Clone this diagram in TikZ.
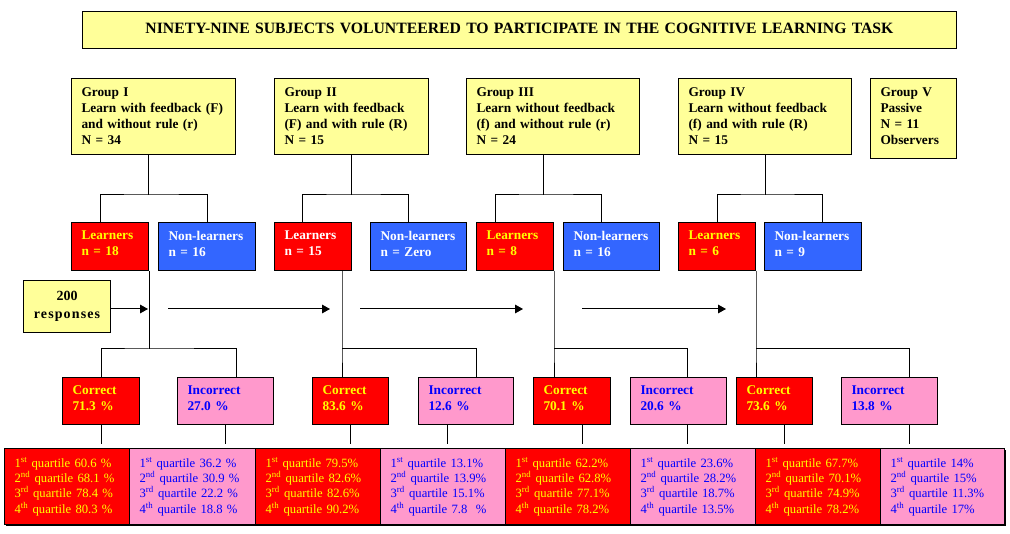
\documentclass[tikz,border=0pt]{standalone}
\usepackage{fontspec}
\setmainfont{Liberation Serif}
\usetikzlibrary{arrows.meta}
\definecolor{lyel}{HTML}{FFFF99}
\definecolor{bred}{HTML}{FF0000}
\definecolor{bblue}{HTML}{3366FF}
\definecolor{bpink}{HTML}{FF99CC}
\definecolor{tyel}{HTML}{FFFF00}
\definecolor{tblue}{HTML}{0000FF}
\newdimen\px \px=0.75pt
\newcommand\mybox[7]{%
  \pgfmathsetmacro\bw{(#4-#2)*0.75}%
  \pgfmathsetmacro\bh{(#5-#3)*0.75}%
  \pgfmathsetmacro\tw{\bw-15}%
  \node[#6, anchor=north west, minimum width=\bw pt, minimum height=\bh pt, text width=\tw pt] (#1) at (#2,#3) {#7};}
\newcommand\sth[1]{\textsuperscript{#1}}
\tikzset{
  base/.style={draw, line width=0.75pt, inner xsep=7.5pt, inner ysep=0pt, align=left},
  up/.style={execute at end node={\par\vspace{4.5pt}}},
  grp/.style={base, fill=lyel, font=\bfseries\fontsize{10}{12}\selectfont},
  lrn/.style={base, up, fill=bred, font=\bfseries\fontsize{10}{12}\selectfont},
  nonl/.style={base, up, fill=bblue, text=white, font=\bfseries\fontsize{10}{12}\selectfont},
  corr/.style={base, up, fill=bred, text=tyel, font=\bfseries\fontsize{10}{12}\selectfont},
  inc/.style={base, up, fill=bpink, text=tblue, font=\bfseries\fontsize{10}{12}\selectfont},
  qred/.style={base, fill=bred, text=tyel, font=\fontsize{9.5}{11.5}\selectfont},
  qpink/.style={base, fill=bpink, text=tblue, font=\fontsize{9.5}{11.5}\selectfont},
  ln/.style={line width=0.75pt},
  arr/.style={line width=0.75pt, -{Triangle[length=6pt,width=6.5pt]}}
}
\begin{document}
\begin{tikzpicture}[x=0.75pt,y=-0.75pt]
\useasboundingbox (0,0) rectangle (1010,534);
% title
\mybox{title}{82}{11}{956}{48}{grp, align=center, font=\bfseries\fontsize{11.8}{13}\selectfont}{\raisebox{2.5pt}{NINETY-NINE SUBJECTS VOLUNTEERED TO PARTICIPATE IN THE COGNITIVE LEARNING TASK}}
% groups
\mybox{g1}{71}{78}{235}{154}{grp}{Group I\\Learn with feedback (F)\\and without rule (r)\\N = 34}
\mybox{g2}{274}{78}{428}{154}{grp}{Group II\\Learn with feedback\\(F) and with rule (R)\\N = 15}
\mybox{g3}{466}{78}{639}{154}{grp}{Group III\\Learn without feedback\\(f) and without rule (r)\\N = 24}
\mybox{g4}{678}{78}{851}{154}{grp}{Group IV\\Learn without feedback\\(f) and with rule (R)\\N = 15}
\mybox{g5}{870}{78}{956}{158}{grp, execute at end node={\par\vspace{3pt}}}{Group V\\Passive\\N = 11\\Observers}
% learners
\mybox{l1}{71}{222}{148}{270}{lrn, text=tyel}{Learners\\n = 18}
\mybox{n1}{158}{222}{255}{270}{nonl}{Non-learners\\n = 16}
\mybox{l2}{274}{222}{351}{270}{lrn, text=white}{Learners\\n = 15}
\mybox{n2}{370}{222}{466}{270}{nonl}{Non-learners\\n = Zero}
\mybox{l3}{476}{222}{553}{270}{lrn, text=tyel}{Learners\\n = 8}
\mybox{n3}{563}{222}{659}{270}{nonl}{Non-learners\\n = 16}
\mybox{l4}{678}{222}{755}{270}{lrn, text=tyel}{Learners\\n = 6}
\mybox{n4}{764}{222}{861}{270}{nonl}{Non-learners\\n = 9}
% responses
\mybox{r}{23}{280}{110}{332}{grp, align=center, inner xsep=2pt, font=\bfseries\fontsize{10.5}{14}\selectfont}{200\\{\addfontfeature{LetterSpace=8}responses}}
% correct / incorrect
\mybox{c1}{62}{377}{139}{424}{corr}{Correct\\71.3 \%}
\mybox{i1}{177}{377}{273}{424}{inc}{Incorrect\\27.0 \%}
\mybox{c2}{312}{377}{388}{424}{corr}{Correct\\83.6 \%}
\mybox{i2}{418}{377}{513}{424}{inc}{Incorrect\\12.6 \%}
\mybox{c3}{533}{377}{610}{424}{corr}{Correct\\70.1 \%}
\mybox{i3}{630}{377}{726}{424}{inc}{Incorrect\\20.6 \%}
\mybox{c4}{736}{377}{812}{424}{corr}{Correct\\73.6 \%}
\mybox{i4}{841}{377}{937}{424}{inc}{Incorrect\\13.8 \%}
% shadow of quartile row
\fill[black] (6,450) rectangle (1006,526);
% quartiles
\mybox{q1}{4}{448}{129}{524}{qred}{1\sth{st}~quartile~60.6~\%\\2\sth{nd}~quartile~68.1~\%\\3\sth{rd}~quartile~78.4~\%\\4\sth{th}~quartile~80.3~\%}
\mybox{q2}{129}{448}{255}{524}{qpink}{1\sth{st}~quartile~36.2~\%\\2\sth{nd}~quartile~30.9~\%\\3\sth{rd}~quartile~22.2~\%\\4\sth{th}~quartile~18.8~\%}
\mybox{q3}{255}{448}{380}{524}{qred}{1\sth{st}~quartile~79.5\%\\2\sth{nd}~quartile~82.6\%\\3\sth{rd}~quartile~82.6\%\\4\sth{th}~quartile~90.2\%}
\mybox{q4}{380}{448}{505}{524}{qpink}{1\sth{st}~quartile~13.1\%\\2\sth{nd}~quartile~13.9\%\\3\sth{rd}~quartile~15.1\%\\4\sth{th}~quartile~7.8~~\%}
\mybox{q5}{505}{448}{630}{524}{qred}{1\sth{st}~quartile~62.2\%\\2\sth{nd}~quartile~62.8\%\\3\sth{rd}~quartile~77.1\%\\4\sth{th}~quartile~78.2\%}
\mybox{q6}{630}{448}{755}{524}{qpink}{1\sth{st}~quartile~23.6\%\\2\sth{nd}~quartile~28.2\%\\3\sth{rd}~quartile~18.7\%\\4\sth{th}~quartile~13.5\%}
\mybox{q7}{755}{448}{880}{524}{qred}{1\sth{st}~quartile~67.7\%\\2\sth{nd}~quartile~70.1\%\\3\sth{rd}~quartile~74.9\%\\4\sth{th}~quartile~78.2\%}
\mybox{q8}{880}{448}{1004}{524}{qpink}{1\sth{st}~quartile~14\%\\2\sth{nd}~quartile~15\%\\3\sth{rd}~quartile~11.3\%\\4\sth{th}~quartile~17\%}
% group -> learners
\draw[ln] ([xshift=-5\px]g1.south) -- ++(0,40) coordinate (j1);
\draw[ln] ([xshift=-9.5\px]l1.north) |- (j1) -| (n1.north);
\draw[ln] (g2.south) -- ++(0,40) coordinate (j2);
\draw[ln] ([xshift=-10.5\px]l2.north) |- (j2) -| ([xshift=-10\px]n2.north);
\draw[ln] ([xshift=-9.5\px]g3.south) -- ++(0,40) coordinate (j3);
\draw[ln] ([xshift=-19.5\px]l3.north) |- (j3) -| ([xshift=-10\px]n3.north);
\draw[ln] (g4.south) -- ++(0,40) coordinate (j4);
\draw[ln] (l4.north) |- (j4) -| ([xshift=9.5\px]n4.north);
% learners -> correct/incorrect
\draw[ln] (l1.south east) -- ++(0,78) coordinate (k1);
\draw[ln] (c1.north) |- (k1) -| ([xshift=11\px]i1.north);
\draw[ln] ([xshift=-10\px]l2.south east) -- ++(0,78) coordinate (k2) -- (k2 |- c2.north);
\draw[ln] (k2) -| ([xshift=10.5\px]i2.north);
\draw[ln] (l3.south east) -- ++(0,78) coordinate (k3) -- (k3 |- c3.north);
\draw[ln] (k3) -| ([xshift=9\px]i3.north);
\draw[ln] (l4.south east) -- ++(0,78) coordinate (k4) -- (k4 |- c4.north);
\draw[ln] (k4) -| ([xshift=20\px]i4.north);
% correct/incorrect -> quartiles
\draw[ln] (c1.south) -- ++(0,19);
\draw[ln] (i1.south) -- ++(0,19);
\draw[ln] (c2.south) -- ++(0,19);
\draw[ln] ([xshift=-18.5\px]i2.south) -- ++(0,19);
\draw[ln] ([xshift=10.5\px]c3.south) -- ++(0,19);
\draw[ln] ([xshift=9\px]i3.south) -- ++(0,19);
\draw[ln] ([xshift=10\px]c4.south) -- ++(0,19);
\draw[ln] ([xshift=20\px]i4.south) -- ++(0,19);
% arrows
\coordinate (a1e) at (148,309);
\coordinate (a2s) at (168,309); \coordinate (a2e) at (330,309);
\coordinate (a3s) at (360,309); \coordinate (a3e) at (523,309);
\coordinate (a4s) at (582,309); \coordinate (a4e) at (726,309);
\draw[arr] (r.east |- a1e) -- (a1e);
\draw[arr] (a2s) -- (a2e);
\draw[arr] (a3s) -- (a3e);
\draw[arr] (a4s) -- (a4e);
\end{tikzpicture}
\end{document}
